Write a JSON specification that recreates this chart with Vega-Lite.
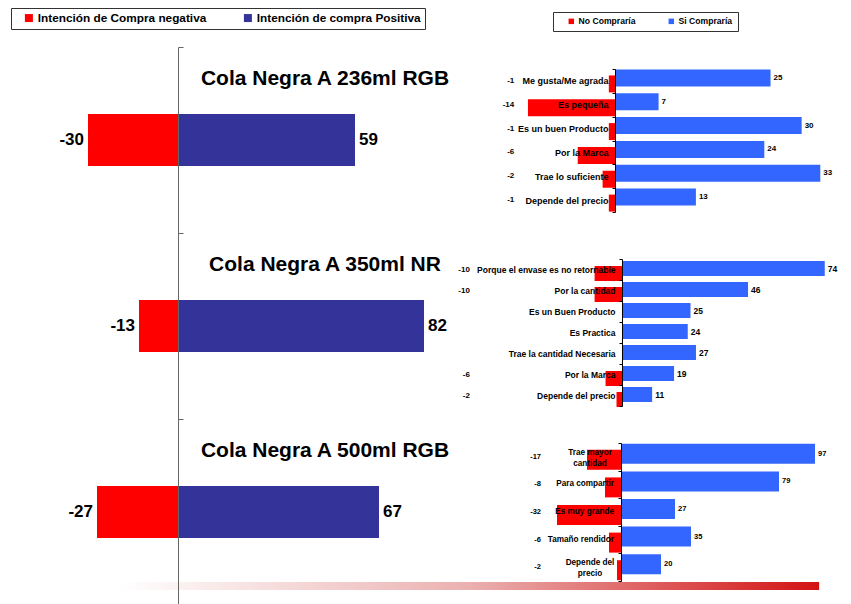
{
  "$schema": "https://vega.github.io/schema/vega-lite/v6.json",
  "background": "white",
  "padding": {"left": 0, "top": 7, "right": 0, "bottom": 0},
  "config": {
    "view": {"stroke": null},
    "font": "Liberation Sans",
    "axisX": {"disable": true}
  },
  "spacing": 10,
  "bounds": "flush",
  "resolve": {"scale": {"color": "independent"}, "legend": {"color": "independent"}},
  "hconcat": [
    {
      "width": 430,
      "height": 558,
      "data": {"values": [
        {"producto": "Cola Negra A 236ml RGB", "negativa": -30, "positiva": 59},
        {"producto": "Cola Negra A 350ml NR", "negativa": -13, "positiva": 82},
        {"producto": "Cola Negra A 500ml RGB", "negativa": -27, "positiva": 67}
      ]},
      "encoding": {
        "y": {"field": "producto", "type": "nominal", "sort": null,
          "scale": {"domain": ["Cola Negra A 236ml RGB", "Cola Negra A 350ml NR", "Cola Negra A 500ml RGB"], "paddingInner": 0, "paddingOuter": 0},
          "axis": {"title": null, "labels": false, "offset": -178, "domainColor": "#666", "tickColor": "#666", "tickSize": -5, "tickBand": "extent", "zindex": 1}}
      },
      "layer": [
        {
          "mark": {"type": "bar", "size": 52},
          "encoding": {
            "x": {"field": "negativa", "type": "quantitative", "scale": {"domain": [-59.33, 84], "nice": false}, "axis": null},
            "color": {"datum": "Intención de Compra negativa", "type": "nominal",
              "scale": {"domain": ["Intención de Compra negativa", "Intención de compra Positiva"], "range": ["#FF0000", "#333399"]},
              "legend": {"orient": "none", "legendX": 11, "legendY": -39, "direction": "horizontal", "title": null,
                "symbolType": "square", "symbolSize": 64, "symbolStrokeWidth": 0, "symbolOffset": 8,
                "labelFontSize": 11.8, "labelFontWeight": "bold", "labelColor": "#000", "labelOffset": 3, "labelLimit": 400,
                "columnPadding": 27, "padding": 4, "strokeColor": "#333", "fillColor": "#fff"}}
          }
        },
        {
          "mark": {"type": "bar", "size": 52},
          "encoding": {
            "x": {"field": "positiva", "type": "quantitative", "axis": null},
            "color": {"datum": "Intención de compra Positiva", "type": "nominal"}
          }
        },
        {
          "mark": {"type": "text", "align": "right", "dx": -4, "fontSize": 17, "fontWeight": "bold", "color": "#000"},
          "encoding": {
            "x": {"field": "negativa", "type": "quantitative", "axis": null},
            "text": {"field": "negativa", "type": "nominal"}
          }
        },
        {
          "mark": {"type": "text", "align": "left", "dx": 4, "fontSize": 17, "fontWeight": "bold", "color": "#000"},
          "encoding": {
            "x": {"field": "positiva", "type": "quantitative", "axis": null},
            "text": {"field": "positiva", "type": "nominal"}
          }
        },
        {
          "mark": {"type": "text", "align": "center", "dy": -61, "fontSize": 21, "fontWeight": "bold", "color": "#000"},
          "encoding": {
            "x": {"datum": 49},
            "text": {"field": "producto", "type": "nominal"}
          }
        },
        {
          "data": {"values": [{"decor": 1}]},
          "mark": {"type": "bar", "size": 8, "yOffset": 74,
            "color": {"gradient": "linear", "x1": 0, "x2": 1, "y1": 0, "y2": 0,
              "stops": [{"offset": 0, "color": "#ffffff"}, {"offset": 0.5, "color": "#ebb0b0"}, {"offset": 1, "color": "#d31212"}]}},
          "encoding": {
            "x": {"datum": -19.3},
            "x2": {"datum": 213.7},
            "y": {"datum": "Cola Negra A 500ml RGB", "type": "nominal"}
          }
        }
      ]
    },
    {
      "spacing": 21,
      "bounds": "flush",
      "resolve": {"scale": {"color": "independent"}, "legend": {"color": "independent"}},
      "vconcat": [
        {
          "width": 405,
          "height": 1,
          "data": {"values": [{"s": 1}]},
          "mark": {"type": "point", "opacity": 0}
        },
        {
          "spacing": 47,
          "bounds": "flush",
          "resolve": {"scale": {"color": "independent"}, "legend": {"color": "independent"}},
          "vconcat": [
            {
              "width": 405,
              "height": 143,
              "data": {"values": [
                {"cat": "Me gusta/Me agrada", "no": -1, "si": 25},
                {"cat": "Es pequeña", "no": -14, "si": 7},
                {"cat": "Es un buen Producto", "no": -1, "si": 30},
                {"cat": "Por la Marca", "no": -6, "si": 24},
                {"cat": "Trae lo suficiente", "no": -2, "si": 33},
                {"cat": "Depende del precio", "no": -1, "si": 13}
              ]},
              "encoding": {
                "y": {"field": "cat", "type": "nominal", "sort": null,
                  "scale": {"domain": ["Me gusta/Me agrada", "Es pequeña", "Es un buen Producto", "Por la Marca", "Trae lo suficiente", "Depende del precio"], "paddingInner": 0, "paddingOuter": 0},
                  "axis": {"title": null, "offset": -175, "domainColor": "#000", "tickColor": "#000", "tickSize": 3, "tickBand": "extent",
                    "labelPadding": 4, "labelFontSize": 9, "labelFontWeight": "bold", "labelColor": "#000", "labelLimit": 400, "zindex": 1}}
              },
              "layer": [
                {
                  "mark": {"type": "bar", "size": 17, "yOffset": 3},
                  "encoding": {
                    "x": {"field": "no", "type": "quantitative", "scale": {"domain": [-28.14, 36.97], "nice": false}, "axis": null},
                    "color": {"datum": "No Compraría", "type": "nominal",
                      "scale": {"domain": ["No Compraría", "Si Compraría"], "range": ["#FF0000", "#3366FF"]},
                      "legend": {"orient": "none", "legendX": 113, "legendY": -57, "direction": "horizontal", "title": null,
                        "symbolType": "square", "symbolSize": 30, "symbolStrokeWidth": 0, "symbolOffset": 9,
                        "labelFontSize": 8.6, "labelFontWeight": "bold", "labelColor": "#000", "labelOffset": 3,
                        "columnPadding": 22, "padding": 5, "strokeColor": "#333", "fillColor": "#fff"}}
                  }
                },
                {
                  "mark": {"type": "bar", "size": 17, "yOffset": -3},
                  "encoding": {
                    "x": {"field": "si", "type": "quantitative", "axis": null},
                    "color": {"datum": "Si Compraría", "type": "nominal"}
                  }
                },
                {
                  "mark": {"type": "text", "align": "left", "dx": 3, "yOffset": -3, "fontSize": 8, "fontWeight": "bold", "color": "#000"},
                  "encoding": {
                    "x": {"field": "si", "type": "quantitative", "axis": null},
                    "text": {"field": "si", "type": "nominal"}
                  }
                },
                {
                  "transform": [{"filter": "datum.no != null"}],
                  "mark": {"type": "text", "align": "right", "fontSize": 8, "fontWeight": "bold", "color": "#000"},
                  "encoding": {
                    "x": {"datum": -16.2},
                    "text": {"field": "no", "type": "nominal"}
                  }
                }
              ]
            },
            {
              "spacing": 37,
              "bounds": "flush",
              "resolve": {"scale": {"color": "independent"}, "legend": {"color": "independent"}},
              "vconcat": [
                {
                  "width": 405,
                  "height": 147,
                  "data": {"values": [
                    {"cat": "Porque el envase es no retornable", "no": -10, "si": 74},
                    {"cat": "Por la cantidad", "no": -10, "si": 46},
                    {"cat": "Es un Buen Producto", "no": null, "si": 25},
                    {"cat": "Es Practica", "no": null, "si": 24},
                    {"cat": "Trae la cantidad Necesaria", "no": null, "si": 27},
                    {"cat": "Por la Marca", "no": -6, "si": 19},
                    {"cat": "Depende del precio", "no": -2, "si": 11}
                  ]},
                  "encoding": {
                    "y": {"field": "cat", "type": "nominal", "sort": null,
                      "scale": {"domain": ["Porque el envase es no retornable", "Por la cantidad", "Es un Buen Producto", "Es Practica", "Trae la cantidad Necesaria", "Por la Marca", "Depende del precio"], "paddingInner": 0, "paddingOuter": 0},
                      "axis": {"title": null, "offset": -182, "domainColor": "#000", "tickColor": "#000", "tickSize": 3, "tickBand": "extent",
                        "labelPadding": 4, "labelFontSize": 8.5, "labelFontWeight": "bold", "labelColor": "#000", "labelLimit": 400, "zindex": 1}}
                  },
                  "layer": [
                    {
                      "mark": {"type": "bar", "size": 15, "yOffset": 4, "color": "#FF0000"},
                      "encoding": {
                        "x": {"field": "no", "type": "quantitative", "scale": {"domain": [-66.42, 81.39], "nice": false}, "axis": null}
                      }
                    },
                    {
                      "mark": {"type": "bar", "size": 15, "yOffset": -1, "color": "#3366FF"},
                      "encoding": {
                        "x": {"field": "si", "type": "quantitative", "axis": null}
                      }
                    },
                    {
                      "mark": {"type": "text", "align": "left", "dx": 3, "yOffset": -1, "fontSize": 8.5, "fontWeight": "bold", "color": "#000"},
                      "encoding": {
                        "x": {"field": "si", "type": "quantitative", "axis": null},
                        "text": {"field": "si", "type": "nominal"}
                      }
                    },
                    {
                      "transform": [{"filter": "datum.no != null"}],
                      "mark": {"type": "text", "align": "right", "fontSize": 8, "fontWeight": "bold", "color": "#000"},
                      "encoding": {
                        "x": {"datum": -55.5},
                        "text": {"field": "no", "type": "nominal"}
                      }
                    }
                  ]
                },
                {
                  "width": 405,
                  "height": 138,
                  "data": {"values": [
                    {"cat": "Trae mayor|cantidad", "no": -17, "si": 97},
                    {"cat": "Para compartir", "no": -8, "si": 79},
                    {"cat": "Es muy grande", "no": -32, "si": 27},
                    {"cat": "Tamaño rendidor", "no": -6, "si": 35},
                    {"cat": "Depende del|precio", "no": -2, "si": 20}
                  ]},
                  "encoding": {
                    "y": {"field": "cat", "type": "nominal", "sort": null,
                      "scale": {"domain": ["Trae mayor|cantidad", "Para compartir", "Es muy grande", "Tamaño rendidor", "Depende del|precio"], "paddingInner": 0, "paddingOuter": 0},
                      "axis": {"title": null, "labels": false, "offset": -181, "domainColor": "#000", "tickColor": "#000", "tickSize": 3, "tickBand": "extent", "zindex": 1}}
                  },
                  "layer": [
                    {
                      "mark": {"type": "bar", "size": 20, "yOffset": 3, "color": "#FF0000"},
                      "encoding": {
                        "x": {"field": "no", "type": "quantitative", "scale": {"domain": [-90.5, 112], "nice": false}, "axis": null}
                      }
                    },
                    {
                      "mark": {"type": "bar", "size": 20, "yOffset": -3, "color": "#3366FF"},
                      "encoding": {
                        "x": {"field": "si", "type": "quantitative", "axis": null}
                      }
                    },
                    {
                      "transform": [{"filter": "indexof(datum.cat, '|') < 0"}],
                      "mark": {"type": "text", "align": "right", "baseline": "middle", "dx": -7, "fontSize": 8.2, "fontWeight": "bold", "color": "#000"},
                      "encoding": {
                        "x": {"datum": 0},
                        "text": {"field": "cat", "type": "nominal"}
                      }
                    },
                    {
                      "transform": [{"filter": "indexof(datum.cat, '|') >= 0"}],
                      "mark": {"type": "text", "align": "center", "baseline": "middle", "dx": -31, "dy": -4, "lineBreak": "|", "lineHeight": 11, "fontSize": 8.2, "fontWeight": "bold", "color": "#000"},
                      "encoding": {
                        "x": {"datum": 0},
                        "text": {"field": "cat", "type": "nominal"}
                      }
                    },
                    {
                      "mark": {"type": "text", "align": "left", "dx": 3, "yOffset": -3, "fontSize": 7.5, "fontWeight": "bold", "color": "#000"},
                      "encoding": {
                        "x": {"field": "si", "type": "quantitative", "axis": null},
                        "text": {"field": "si", "type": "nominal"}
                      }
                    },
                    {
                      "transform": [{"filter": "datum.no != null"}],
                      "mark": {"type": "text", "align": "right", "fontSize": 7.5, "fontWeight": "bold", "color": "#000"},
                      "encoding": {
                        "x": {"datum": -40},
                        "text": {"field": "no", "type": "nominal"}
                      }
                    }
                  ]
                }
              ]
            }
          ]
        }
      ]
    }
  ]
}
